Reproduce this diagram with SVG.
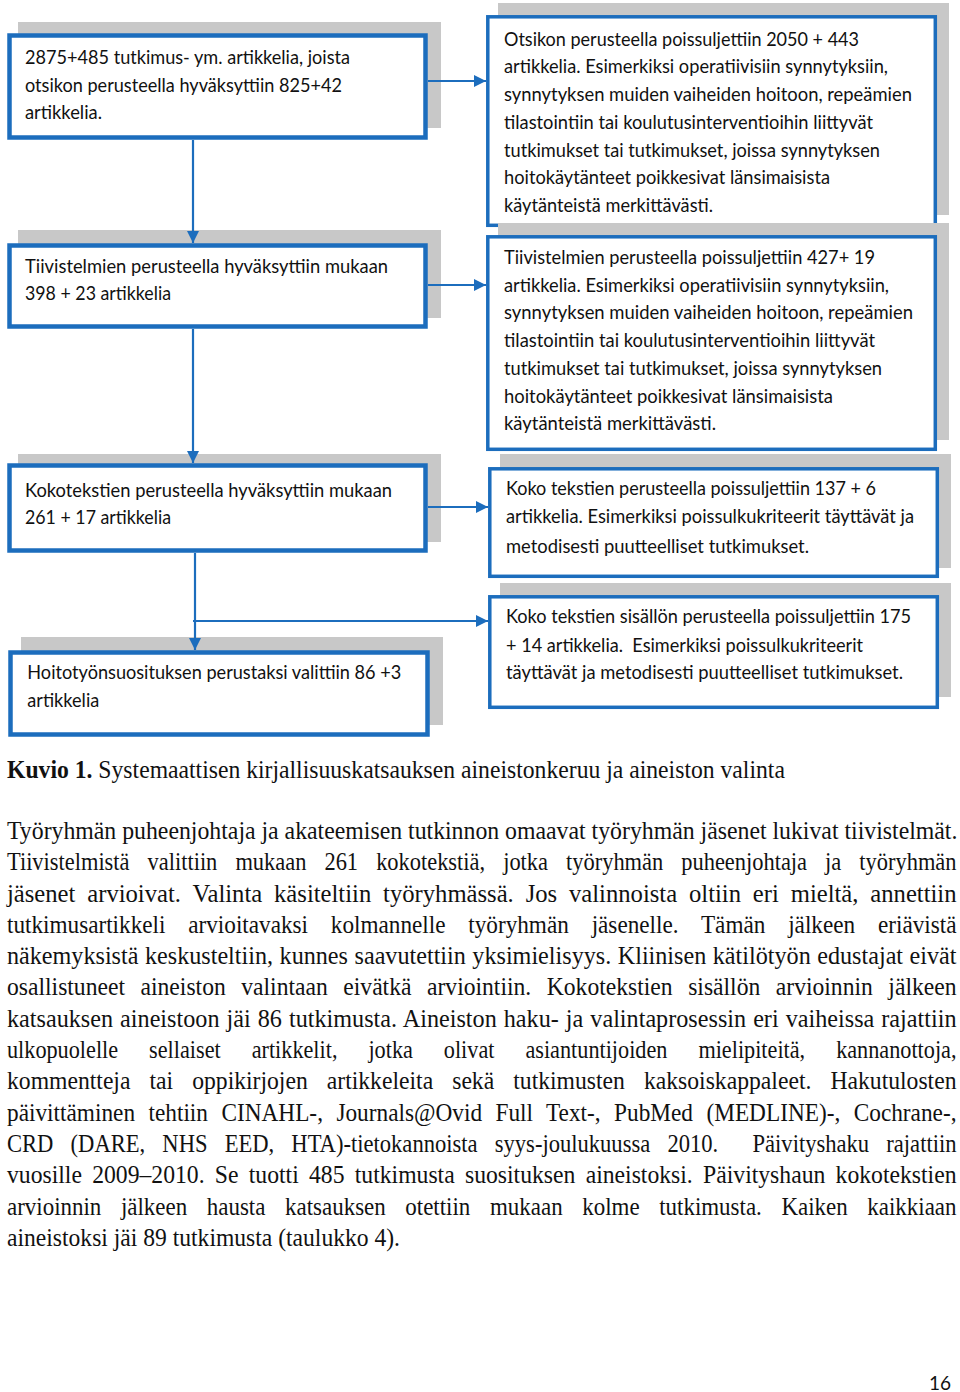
<svg xmlns="http://www.w3.org/2000/svg" width="960" height="1392" viewBox="0 0 960 1392">
<style>
.shadow{fill:#c8c8c8;stroke:none}
.boxL{fill:#fff;stroke:#1c6dbd;stroke-width:4.5}
.boxR{fill:#fff;stroke:#1c6dbd;stroke-width:3.5}
.bt{font-family:Lato,"Open Sans","Liberation Sans",sans-serif;font-size:19px;fill:#111}
.conn{fill:none;stroke:#1c6dbd;stroke-width:2.2}
.body{font-family:"Liberation Serif","Times New Roman",serif;font-size:24.5px;fill:#111}
</style>
<defs>
<marker id="ah" markerUnits="userSpaceOnUse" markerWidth="12" markerHeight="12" refX="12" refY="6" orient="auto">
<path d="M0,0 L12,6 L0,12 z" fill="#1c6dbd"/>
</marker>
</defs>
<rect width="960" height="1392" fill="#fff"/>

<g id="node-b1">
<rect class="shadow" x="18" y="22" width="423" height="106"/>
<rect class="boxL" x="9.5" y="35.5" width="416" height="102"/>
<text class="bt"><tspan x="25" y="64" textLength="325" lengthAdjust="spacingAndGlyphs">2875+485 tutkimus- ym. artikkelia, joista</tspan><tspan x="25" y="91.7" textLength="317" lengthAdjust="spacingAndGlyphs">otsikon perusteella hyväksyttiin 825+42</tspan><tspan x="25" y="119.3" textLength="77" lengthAdjust="spacingAndGlyphs">artikkelia.</tspan></text>
</g>

<g id="node-b2">
<rect class="shadow" x="18" y="230" width="423" height="88"/>
<rect class="boxL" x="9.5" y="245.5" width="416" height="81"/>
<text class="bt"><tspan x="25" y="272.7" textLength="363" lengthAdjust="spacingAndGlyphs">Tiivistelmien perusteella hyväksyttiin mukaan</tspan><tspan x="25" y="300.3" textLength="146" lengthAdjust="spacingAndGlyphs">398 + 23 artikkelia</tspan></text>
</g>

<g id="node-b3">
<rect class="shadow" x="18" y="454" width="423" height="88"/>
<rect class="boxL" x="9.5" y="465.5" width="416" height="85"/>
<text class="bt"><tspan x="25" y="496.5" textLength="367" lengthAdjust="spacingAndGlyphs">Kokotekstien perusteella hyväksyttiin mukaan</tspan><tspan x="25" y="524.2" textLength="146" lengthAdjust="spacingAndGlyphs">261 + 17 artikkelia</tspan></text>
</g>

<g id="node-b4">
<rect class="shadow" x="21" y="637" width="422" height="88"/>
<rect class="boxL" x="10.5" y="652.5" width="417" height="82"/>
<text class="bt"><tspan x="27.3" y="679.3" textLength="374" lengthAdjust="spacingAndGlyphs">Hoitotyönsuosituksen perustaksi valittiin 86 +3</tspan><tspan x="27.3" y="706.8" textLength="72" lengthAdjust="spacingAndGlyphs">artikkelia</tspan></text>
</g>

<g id="node-r1">
<rect class="shadow" x="498" y="3" width="451" height="212"/>
<rect class="boxR" x="487.8" y="16.8" width="447.5" height="208.5"/>
<text class="bt"><tspan x="504" y="45.5" textLength="355" lengthAdjust="spacingAndGlyphs">Otsikon perusteella poissuljettiin 2050 + 443</tspan><tspan x="504" y="73.3" textLength="384" lengthAdjust="spacingAndGlyphs">artikkelia. Esimerkiksi operatiivisiin synnytyksiin,</tspan><tspan x="504" y="101" textLength="408" lengthAdjust="spacingAndGlyphs">synnytyksen muiden vaiheiden hoitoon, repeämien</tspan><tspan x="504" y="128.8" textLength="369" lengthAdjust="spacingAndGlyphs">tilastointiin tai koulutusinterventioihin liittyvät</tspan><tspan x="504" y="156.6" textLength="376" lengthAdjust="spacingAndGlyphs">tutkimukset tai tutkimukset, joissa synnytyksen</tspan><tspan x="504" y="184.4" textLength="326" lengthAdjust="spacingAndGlyphs">hoitokäytänteet poikkesivat länsimaisista</tspan><tspan x="504" y="212" textLength="209" lengthAdjust="spacingAndGlyphs">käytänteistä merkittävästi.</tspan></text>
</g>

<g id="node-r2">
<rect class="shadow" x="498" y="223" width="451" height="217"/>
<rect class="boxR" x="487.8" y="236.8" width="447.5" height="212.5"/>
<text class="bt"><tspan x="504" y="264" textLength="371" lengthAdjust="spacingAndGlyphs">Tiivistelmien perusteella poissuljettiin 427+ 19</tspan><tspan x="504" y="291.7" textLength="385" lengthAdjust="spacingAndGlyphs">artikkelia. Esimerkiksi operatiivisiin synnytyksiin,</tspan><tspan x="504" y="319.4" textLength="409" lengthAdjust="spacingAndGlyphs">synnytyksen muiden vaiheiden hoitoon, repeämien</tspan><tspan x="504" y="347.1" textLength="371" lengthAdjust="spacingAndGlyphs">tilastointiin tai koulutusinterventioihin liittyvät</tspan><tspan x="504" y="374.8" textLength="378" lengthAdjust="spacingAndGlyphs">tutkimukset tai tutkimukset, joissa synnytyksen</tspan><tspan x="504" y="402.5" textLength="329" lengthAdjust="spacingAndGlyphs">hoitokäytänteet poikkesivat länsimaisista</tspan><tspan x="504" y="430.2" textLength="212" lengthAdjust="spacingAndGlyphs">käytänteistä merkittävästi.</tspan></text>
</g>

<g id="node-r3">
<rect class="shadow" x="500" y="454" width="451" height="114"/>
<rect class="boxR" x="489.8" y="468.8" width="447.5" height="107.5"/>
<text class="bt"><tspan x="506" y="495" textLength="370" lengthAdjust="spacingAndGlyphs">Koko tekstien perusteella poissuljettiin 137 + 6</tspan><tspan x="506" y="523.3" textLength="408" lengthAdjust="spacingAndGlyphs">artikkelia. Esimerkiksi poissulkukriteerit täyttävät ja</tspan><tspan x="506" y="552.7" textLength="303" lengthAdjust="spacingAndGlyphs">metodisesti puutteelliset tutkimukset.</tspan></text>
</g>

<g id="node-r4">
<rect class="shadow" x="500" y="583" width="451" height="114"/>
<rect class="boxR" x="489.8" y="596.8" width="447.5" height="110.5"/>
<text class="bt"><tspan x="506" y="623.3" textLength="405" lengthAdjust="spacingAndGlyphs">Koko tekstien sisällön perusteella poissuljettiin 175</tspan><tspan x="506" y="651.7" textLength="357" lengthAdjust="spacingAndGlyphs">+ 14 artikkelia.&#160; Esimerkiksi poissulkukriteerit</tspan><tspan x="506" y="678.7" textLength="397" lengthAdjust="spacingAndGlyphs">täyttävät ja metodisesti puutteelliset tutkimukset.</tspan></text>
</g>

<g id="connectors">
<path class="conn" d="M428,81 H486" marker-end="url(#ah)"/>
<path class="conn" d="M193,140 V243" marker-end="url(#ah)"/>
<path class="conn" d="M428,285 H486" marker-end="url(#ah)"/>
<path class="conn" d="M193,329 V463" marker-end="url(#ah)"/>
<path class="conn" d="M428,507 H488" marker-end="url(#ah)"/>
<path class="conn" d="M195,553 V650" marker-end="url(#ah)"/>
<path class="conn" d="M193,621 H488" marker-end="url(#ah)"/>
</g>

<g id="caption" transform="matrix(0.88 0 0 1 0 0)">
<text class="body" x="7.95" y="778.5" textLength="884" lengthAdjust="spacingAndGlyphs"><tspan font-weight="bold">Kuvio 1.</tspan> Systemaattisen kirjallisuuskatsauksen aineistonkeruu ja aineiston valinta</text>
</g>

<g id="body-text" transform="matrix(0.88 0 0 1 0 0)">
<text class="body" x="7.95" y="839" textLength="1080" lengthAdjust="spacingAndGlyphs">Työryhmän puheenjohtaja ja akateemisen tutkinnon omaavat työryhmän jäsenet lukivat tiivistelmät.</text>
<text class="body" x="7.95" y="870.3" textLength="1079" lengthAdjust="spacingAndGlyphs" word-spacing="13.6">Tiivistelmistä valittiin mukaan 261 kokotekstiä, jotka työryhmän puheenjohtaja ja työryhmän</text>
<text class="body" x="7.95" y="901.6" textLength="1079" lengthAdjust="spacingAndGlyphs" word-spacing="5.7">jäsenet arvioivat. Valinta käsiteltiin työryhmässä. Jos valinnoista oltiin eri mieltä, annettiin</text>
<text class="body" x="7.95" y="932.9" textLength="1079" lengthAdjust="spacingAndGlyphs" word-spacing="18">tutkimusartikkeli arvioitavaksi kolmannelle työryhmän jäsenelle. Tämän jälkeen eriävistä</text>
<text class="body" x="7.95" y="964.2" textLength="1079" lengthAdjust="spacingAndGlyphs" word-spacing="0.5">näkemyksistä keskusteltiin, kunnes saavutettiin yksimielisyys. Kliinisen kätilötyön edustajat eivät</text>
<text class="body" x="7.95" y="995.5" textLength="1079" lengthAdjust="spacingAndGlyphs" word-spacing="10">osallistuneet aineiston valintaan eivätkä arviointiin. Kokotekstien sisällön arvioinnin jälkeen</text>
<text class="body" x="7.95" y="1026.8" textLength="1079" lengthAdjust="spacingAndGlyphs" word-spacing="1">katsauksen aineistoon jäi 86 tutkimusta. Aineiston haku- ja valintaprosessin eri vaiheissa rajattiin</text>
<text class="body" x="7.95" y="1058.1" textLength="1079" lengthAdjust="spacingAndGlyphs" word-spacing="28">ulkopuolelle sellaiset artikkelit, jotka olivat asiantuntijoiden mielipiteitä, kannanottoja,</text>
<text class="body" x="7.95" y="1089.4" textLength="1079" lengthAdjust="spacingAndGlyphs" word-spacing="13.6">kommentteja tai oppikirjojen artikkeleita sekä tutkimusten kaksoiskappaleet. Hakutulosten</text>
<text class="body" x="7.95" y="1120.7" textLength="1079" lengthAdjust="spacingAndGlyphs" word-spacing="8">päivittäminen tehtiin CINAHL-, Journals@Ovid Full Text-, PubMed (MEDLINE)-, Cochrane-,</text>
<text class="body" x="7.95" y="1152" textLength="1079" lengthAdjust="spacingAndGlyphs" word-spacing="12.5">CRD (DARE, NHS EED, HTA)-tietokannoista syys-joulukuussa 2010.&#160; Päivityshaku rajattiin</text>
<text class="body" x="7.95" y="1183.3" textLength="1079" lengthAdjust="spacingAndGlyphs" word-spacing="4.5">vuosille 2009–2010. Se tuotti 485 tutkimusta suosituksen aineistoksi. Päivityshaun kokotekstien</text>
<text class="body" x="7.95" y="1214.6" textLength="1079" lengthAdjust="spacingAndGlyphs" word-spacing="14.8">arvioinnin jälkeen hausta katsauksen otettiin mukaan kolme tutkimusta. Kaiken kaikkiaan</text>
<text class="body" x="7.95" y="1245.9" textLength="446.6" lengthAdjust="spacingAndGlyphs">aineistoksi jäi 89 tutkimusta (taulukko 4).</text>
</g>

<g id="page-number">
<text class="bt" x="951" y="1390" text-anchor="end" font-size="18">16</text>
</g>
</svg>
